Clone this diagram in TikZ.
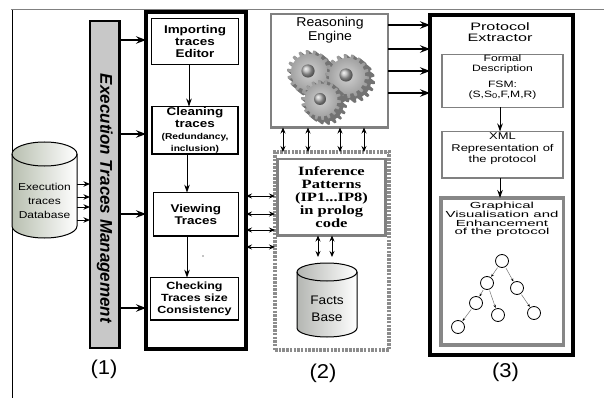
\documentclass[tikz,border=0pt]{standalone}
\usepackage{fontspec}
\setmainfont{Liberation Sans}
\newfontfamily\sfa{Liberation Sans}[FakeStretch=1.1]
\newfontfamily\sfb{Liberation Sans}[FakeStretch=1.2]
\newfontfamily\sfc{Liberation Sans}[FakeStretch=1.32]
\newfontfamily\sfd{Liberation Sans}[FakeStretch=1.5]
\newfontfamily\sfe{Liberation Sans}[FakeStretch=1.7]
\newfontfamily\rmw{Liberation Serif}[FakeStretch=1.3]
\usetikzlibrary{arrows.meta}
\newcommand\fsz[2]{\fontsize{#1}{#2}\selectfont}
\definecolor{drumleft}{RGB}{184,191,176}
\definecolor{factsleft}{RGB}{180,182,178}
\definecolor{panelgray}{RGB}{128,128,128}
\definecolor{bargray}{RGB}{200,200,200}

% a cylinder: left x, right x, top y, bottom y, end radius, left colour
\newcommand\drum[6]{%
  \pgfmathsetmacro\rx{(#2-#1)/2}%
  \shade[left color=#6, right color=white, draw=black, line width=1pt]
    (#1,#3+#5) -- (#1,#4-#5)
    arc[start angle=180,end angle=0,x radius=\rx,y radius=#5]
    -- (#2,#3+#5)
    arc[start angle=0,end angle=-180,x radius=\rx,y radius=#5] -- cycle;
  \draw[line width=1pt] (#1,#3+#5)
    arc[start angle=180,end angle=0,x radius=\rx,y radius=#5];
}

% a toothed wheel with a dark extruded side: centre x, centre y, radius
\newcommand\cogwheel[3]{%
  \foreach \d in {6,5,4,3,2,1}{%
    \fill[cogside,shift={(#1+\d,#2+0.8*\d)}] plot[cogplot]
      (\t:{#3*(0.82+0.18*min(1,max(0,2.4*sin(18*\t))))}) -- cycle;}
  \shade[cogface,shift={(#1,#2)}] plot[cogplot]
      (\t:{#3*(0.82+0.18*min(1,max(0,2.4*sin(18*\t))))}) -- cycle;
  \shade[cogcore] (#1-1,#2-1) circle[radius={0.3*#3}];
}

\begin{document}
\begin{tikzpicture}[x=1pt,y=-1pt,
  every node/.style={outer sep=0pt},
  cogplot/.style={domain=0:360,samples=325,variable=\t},
  cogside/.style={fill=black!55},
  cogface/.style={inner color=black!18, outer color=black!40},
  cogcore/.style={ball color=black!30},
  bigframe/.style={draw, line width=4pt, inner sep=0pt},
  inbox/.style={draw, line width=1.5pt, inner sep=1pt, align=center,
    font=\sfb\bfseries\fsz{11.2}{12.2}},
  graypanel/.style={draw=panelgray, line width=2.8pt, inner sep=0pt},
  subbox/.style={draw=panelgray, line width=1.8pt, inner sep=0pt},
  dashpanel/.style={draw=black!45, line width=4pt, dash pattern=on 2.5pt off 1.2pt, inner sep=0pt},
  bar/.style={draw, fill=bargray, line width=2.5pt, inner sep=0pt},
  txt/.style={align=center, inner sep=0pt},
  tag/.style={font=\sfa\fsz{20}{22}, inner sep=0pt},
  bigarr/.style={line width=1.3pt, -{Stealth[length=10pt,width=7.5pt,inset=3.5pt]}},
  midarr/.style={line width=1pt, -{Stealth[length=8pt,width=5.5pt,inset=2.5pt]}},
  smallarr/.style={line width=1pt, -{Stealth[length=6.5pt,width=5.5pt,inset=2pt]}},
  twoway/.style={line width=0.8pt, {Stealth[length=6pt,width=5pt,inset=2pt]}-{Stealth[length=6pt,width=5pt,inset=2pt]}},
  tn/.style={circle, draw, line width=0.8pt, minimum size=13pt, inner sep=0pt, fill=white},
  te/.style={draw=black!55, line width=0.5pt, shorten >=1pt, shorten <=1.5pt,
    -{Stealth[length=3pt,width=2.5pt,color=black]}}]
\useasboundingbox (0,0) rectangle (604,398);

% outer frame lines
\draw[black!50, line width=1pt] (11,10) -- (604,10);
\draw[line width=1pt] (12,10) -- (12,398);

% ---------- (1) trace management ----------
\drum{12}{77}{142}{238}{12}{drumleft}
\node[txt, minimum width=65pt, font=\sfb\fsz{10}{14}] (db) at (44.5,201) {Execution\\traces\\Database};

\node[bar, minimum width=29.5pt, minimum height=327pt] (etm) at (104.75,184.5) {};
\node[rotate=-90, inner sep=0pt, font=\bfseries\itshape\fsz{17}{19}] (etmlabel) at (104.75,198.5) {Execution Traces Management};

\foreach \yy in {184,197,207,220}
  \draw[smallarr] (db.east |- 0,\yy) -- (etm.west |- 0,\yy);

\node[bigframe, minimum width=100pt, minimum height=336.5pt] (tools) at (196,180.25) {};

\node[inbox, minimum width=86.6pt, minimum height=46pt] (imp) at (195,41.3) {Importing\\traces\\Editor};
\node[inbox, minimum width=86pt, minimum height=46pt] (clean) at (195,130.3)
  {Cleaning\\traces\\[-1pt]\fsz{8.5}{9}(Redundancy,\\\fsz{8.5}{9}inclusion)};
\node[inbox, minimum width=85pt, minimum height=43.3pt] (view) at (195.8,214.3) {Viewing\\Traces};
\node[inbox, minimum width=87.6pt, minimum height=42.3pt, font=\sfb\bfseries\fsz{10.4}{12}] (check) at (194.5,298.8)
  {Checking\\Traces size\\Consistency};
\fill (203,256) circle[radius=0.7];

\foreach \yy in {40,134,214,308}
  \draw[bigarr] (etm.east |- 0,\yy) -- (tools.west |- 0,\yy);

\draw[midarr] (imp.south -| 189,0) -- (clean.north -| 189,0);
\draw[midarr] (clean.south -| 187,0) -- (view.north -| 187,0);
\draw[midarr] (view.south -| 187,0) -- (check.north -| 187,0);

\node[tag] (tag1) at (104,369) {(1)};

% ---------- (2) reasoning ----------
\node[graypanel, minimum width=117pt, minimum height=113.5pt] (re) at (329.5,70.75) {};
\node[txt, font=\sfa\fsz{12.8}{14.6}] (relabel) at (330,30) {Reasoning\\Engine};
\cogwheel{309}{72}{22}
\cogwheel{347}{76}{22}
\cogwheel{321}{100}{20}

\node[dashpanel, minimum width=114pt, minimum height=198pt] (kb) at (332,251) {};
\node[graypanel, minimum width=108pt, minimum height=76.5pt, align=center,
  font=\rmw\bfseries\fsz{12.7}{13}] (inf) at (331.5,197.25)
  {Inference\\Patterns\\(IP1...IP8)\\in prolog\\code};

\drum{297}{357}{263}{337}{9}{factsleft}
\coordinate (factstop) at (327,257);
\node[txt, font=\sfa\fsz{12.4}{17.5}] (facts) at (327,309) {Facts\\Base};

\foreach \xx in {283,308,340,364}
  \draw[twoway] (re.south -| \xx,0) -- (kb.north -| \xx,0);
\foreach \yy in {196,214,230,247}
  \draw[twoway] (tools.east |- 0,\yy) -- (kb.west |- 0,\yy);
\foreach \xx in {318,332}
  \draw[twoway] (inf.south -| \xx,0) -- (factstop -| \xx,0);

\node[tag] (tag2) at (323,373) {(2)};

% ---------- (3) protocol extraction ----------
\node[bigframe, minimum width=143pt, minimum height=340pt] (pe) at (501.5,185) {};
\node[txt, font=\sfd\fsz{10.8}{10.5}] (pelabel) at (500,32) {Protocol\\Extractor};

\foreach \yy in {25,49,71,93}
  \draw[bigarr] (re.east |- 0,\yy) -- (pe.west |- 0,\yy);

\node[subbox, minimum width=121pt, minimum height=53pt] (formal) at (502.5,81) {};
\node[txt, font=\sfc\fsz{9.2}{10}] (formallabel) at (502.5,77.5)
  {Formal\\Description\\[6pt]FSM:\\(S,S{\fsz{7}{7}\raisebox{-1pt}{0}},F,M,R)};

\node[subbox, minimum width=121pt, minimum height=46.5pt] (xml) at (502.5,154.75) {};
\node[txt, font=\sfc\fsz{9.8}{11.5}] (xmllabel) at (502.5,149) {XML\\Representation of\\the protocol};

\node[draw=black!47, line width=3.5pt, inner sep=0pt, minimum width=122.5pt, minimum height=147pt] (gv) at (502.25,271.5) {};
\node[txt, font=\sfe\fsz{8.8}{8.6}] (gvlabel) at (502,219.5)
  {Graphical\\Visualisation and\\Enhancement\\of the protocol};

\draw[midarr] (formal.south -| 500,0) -- (xml.north -| 500,0);
\draw[midarr] (xml.south -| 500,0) -- (gv.north -| 500,0);

\node[tn] (t1) at (502,261) {};
\node[tn] (t2) at (487,283) {};
\node[tn] (t3) at (517,288) {};
\node[tn] (t4) at (476,303) {};
\node[tn] (t5) at (498,315) {};
\node[tn] (t6) at (534,313) {};
\node[tn] (t7) at (458,327) {};
\draw[te] (t1) -- (t2);
\draw[te] (t1) -- (t3);
\draw[te] (t2) -- (t4);
\draw[te] (t2) -- (t5);
\draw[te] (t3) -- (t6);
\draw[te] (t4) -- (t7);

\node[tag] (tag3) at (505.5,372.5) {(3)};
\end{tikzpicture}
\end{document}
